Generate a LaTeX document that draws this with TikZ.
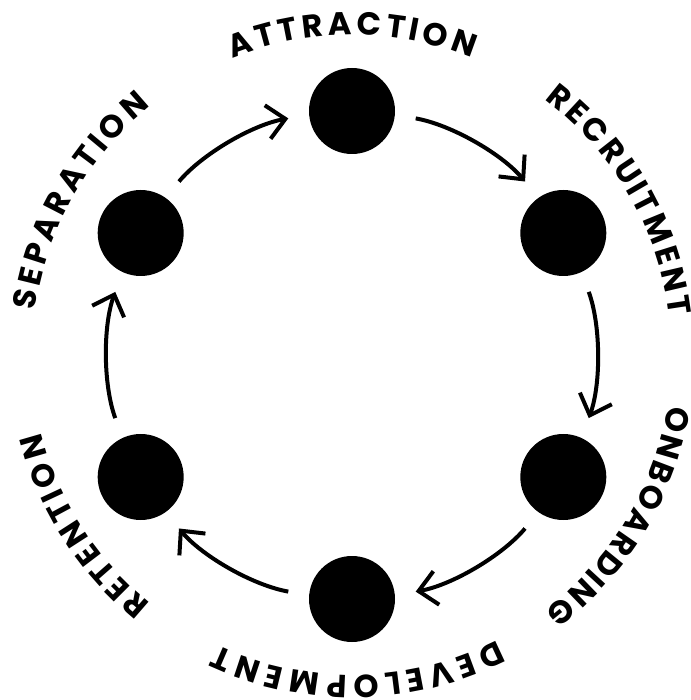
\documentclass[tikz,border=0pt]{standalone}
\usepackage{fontspec}
\newfontfamily\labelfont{Poppins}
\usetikzlibrary{arrows.meta,decorations.text}
\begin{document}
\begin{tikzpicture}[x=1pt,y=1pt,
  stage/.style={circle,fill=black,minimum size=86pt,inner sep=0pt},
  flow/.style={line width=4pt,-{Straight Barb[length=18pt,width=34pt]},shorten <=21pt,shorten >=21pt,bend left=20,looseness=0.88},
  ringtext/.style={decorate,decoration={text effects along path,text={#1},
    text effects/.cd,text along path,fit text to path,
    characters={font=\labelfont\bfseries\fontsize{32}{32}\selectfont}}}]
\useasboundingbox (-352,-345) rectangle (338,355);

% stages on the ring
\node[stage] (attr) at (90:244) {};
\node[stage] (recr) at (30:244) {};
\node[stage] (onb) at (-30:244) {};
\node[stage] (dev) at (-90:244) {};
\node[stage] (ret) at (-150:244) {};
\node[stage] (sep) at (150:244) {};

% clockwise flow, border points chosen on the ring
\draw[flow] (attr.-5) to (recr.125);
\draw[flow] (recr.-65) to (onb.65);
\draw[flow] (onb.-125) to (dev.5);
\draw[flow] (dev.175) to (ret.-55);
\draw[flow] (ret.115) to (sep.-115);
\draw[flow] (sep.55) to (attr.-175);

% labels round the outside
\path[ringtext=ATTRACTION] (112:320) arc[start angle=112,end angle=68,radius=320];
\path[ringtext=RECRUITMENT] (53:320) arc[start angle=53,end angle=7,radius=320];
\path[ringtext=ONBOARDING] (-9:320) arc[start angle=-9,end angle=-53,radius=320];
\path[ringtext=DEVELOPMENT] (-63:320) arc[start angle=-63,end angle=-115,radius=320];
\path[ringtext=RETENTION] (-129:320) arc[start angle=-129,end angle=-166,radius=320];
\path[ringtext=SEPARATION] (172:320) arc[start angle=172,end angle=129,radius=320];
\end{tikzpicture}
\end{document}
